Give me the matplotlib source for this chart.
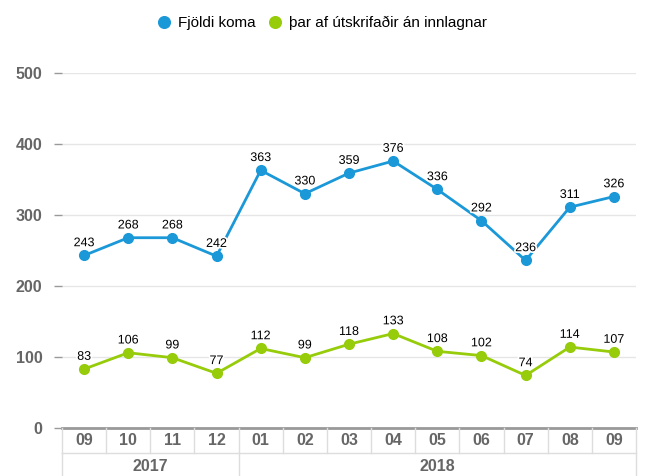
import matplotlib.pyplot as plt
import matplotlib.transforms as mtransforms
import matplotlib.patheffects as pe

plt.rcParams['font.family'] = ['Liberation Sans', 'DejaVu Sans']

# Gögn
manudir = ['09', '10', '11', '12', '01', '02', '03', '04', '05', '06', '07', '08', '09']
ar = ['2017', '2018']
ar_fjoldi = [4, 9]
fjoldi_koma = [243, 268, 268, 242, 363, 330, 359, 376, 336, 292, 236, 311, 326]
utskrifadir = [83, 106, 99, 77, 112, 99, 118, 133, 108, 102, 74, 114, 107]

blar = '#1b98d8'
graenn = '#96cc0a'
grar = '#666666'
mjott = ['Liberation Sans Narrow', 'Liberation Sans', 'DejaVu Sans']

fig = plt.figure(figsize=(6.46, 4.76), dpi=100)
ax = fig.add_axes([62 / 646, 1 - 428 / 476, (636 - 62) / 646, (428 - 73) / 476])

x = list(range(len(manudir)))
ax.plot(x, fjoldi_koma, color=blar, lw=2, marker='o', ms=7, clip_on=False,
        label='Fjöldi koma', zorder=3)
ax.plot(x, utskrifadir, color=graenn, lw=2, marker='o', ms=7, clip_on=False,
        label='þar af útskrifaðir án innlagnar', zorder=3)

# Gildi yfir punktum
for serie in (fjoldi_koma, utskrifadir):
    for i, v in zip(x, serie):
        t = ax.annotate(str(v), (i, v), xytext=(0, 4.5), textcoords='offset points',
                        ha='center', va='bottom', fontsize=9, color='black', zorder=4)
        t.set_path_effects([pe.withStroke(linewidth=2.5, foreground='white')])

ax.set_xlim(-0.5, len(manudir) - 0.5)
ax.set_ylim(0, 500)
ax.set_yticks([0, 100, 200, 300, 400, 500])
ax.grid(axis='y', color='#e6e6e6', lw=1)
ax.set_axisbelow(True)
for s in ax.spines.values():
    s.set_visible(False)
ax.axhline(0, color='#999999', lw=2, zorder=2, clip_on=False)
ax.set_xticks([])
ax.tick_params(axis='y', length=6, width=1, color='#999999', pad=8,
               labelsize=11.5, labelcolor=grar)
for lab in ax.get_yticklabels():
    lab.set_fontweight('bold')
    lab.set_family(mjott)

# Flokkatafla undir ásnum
trans = mtransforms.blended_transform_factory(ax.transData, ax.transAxes)
h = 1 / 355
r1 = -25 * h
r2 = -48 * h
lina = dict(color='#dddddd', lw=1, transform=trans, clip_on=False)
ax.plot([-0.5, len(manudir) - 0.5], [r1, r1], **lina)
for i, m in enumerate(manudir):
    ax.plot([i - 0.5, i - 0.5], [0, r1], **lina)
    ax.text(i, r1 / 2, m, transform=trans, ha='center', va='center',
            fontsize=11.5, fontweight='bold', color=grar, family=mjott)
ax.plot([len(manudir) - 0.5] * 2, [0, r2], **lina)
byrjun = 0
for a, n in zip(ar, ar_fjoldi):
    ax.plot([byrjun - 0.5, byrjun - 0.5], [r1, r2], **lina)
    ax.text(byrjun + (n - 1) / 2, (r1 + r2) / 2 - 0.005, a, transform=trans, ha='center',
            va='center', fontsize=11.5, fontweight='bold', color=grar, family=mjott)
    byrjun += n

fig.legend(loc='upper center', bbox_to_anchor=(0.5, 0.995), ncol=2, frameon=False,
           fontsize=11, handlelength=0.6, handletextpad=0.6, columnspacing=1.0,
           markerscale=1.2)
for h_ in fig.legends[0].legend_handles:
    h_.set_linestyle('none')

fig.savefig('out.png', dpi=100)
